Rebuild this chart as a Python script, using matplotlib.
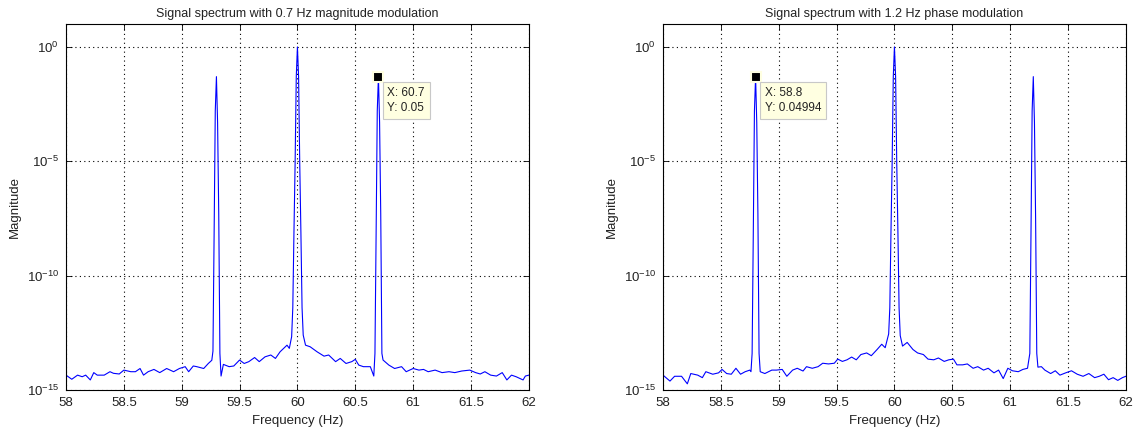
import matplotlib
matplotlib.use("Agg")
import matplotlib.pyplot as plt
import numpy as np

plt.rcParams['font.family'] = ['Liberation Sans', 'DejaVu Sans']
plt.rcParams['font.size'] = 9
plt.rcParams['axes.unicode_minus'] = False

# left plot : 0.7 Hz magnitude modulation (log10 of magnitude)
left_freq = [58.00, 58.05, 58.10, 58.14, 58.17, 58.21, 58.24, 58.27, 58.33, 58.38,
             58.41, 58.46, 58.50, 58.56, 58.60, 58.64, 58.67, 58.71, 58.76, 58.81,
             58.87, 58.93, 58.98, 59.03, 59.06, 59.10, 59.13, 59.19, 59.23, 59.26,
             59.27, 59.28, 59.29, 59.30, 59.31, 59.32, 59.33, 59.34, 59.36, 59.41,
             59.45, 59.50, 59.54, 59.58, 59.63, 59.67, 59.72, 59.77, 59.81, 59.85,
             59.91, 59.93, 59.95, 59.96, 59.97, 59.98, 59.99, 60.00, 60.01, 60.02,
             60.03, 60.04, 60.05, 60.07, 60.11, 60.17, 60.23, 60.27, 60.33, 60.37,
             60.42, 60.47, 60.50, 60.53, 60.57, 60.63, 60.66, 60.67, 60.68, 60.69,
             60.70, 60.71, 60.72, 60.73, 60.74, 60.79, 60.84, 60.90, 60.94, 61.00,
             61.05, 61.09, 61.13, 61.19, 61.25, 61.31, 61.36, 61.42, 61.49, 61.54,
             61.58, 61.62, 61.67, 61.72, 61.77, 61.81, 61.85, 61.89, 61.95, 61.97,
             62.00]
left_logmag = [-14.35, -14.53, -14.35, -14.42, -14.35, -14.56, -14.24, -14.35, -14.35, -14.20,
               -14.27, -14.30, -14.13, -14.20, -14.20, -14.06, -14.35, -14.20, -14.10, -14.24,
               -14.06, -14.20, -14.06, -13.98, -14.20, -13.95, -13.98, -14.06, -13.84, -13.70,
               -13.30, -8.20, -2.80, -1.30, -3.30, -7.30, -13.40, -14.39, -13.88, -13.98,
               -13.95, -13.69, -13.84, -13.76, -13.58, -13.76, -13.55, -13.47, -13.62, -13.33,
               -13.04, -13.18, -12.67, -11.40, -8.10, -5.10, -1.30, 0.00, -1.30, -5.10,
               -8.10, -11.40, -12.60, -13.04, -13.11, -13.33, -13.52, -13.47, -13.76, -13.62,
               -13.84, -13.76, -13.66, -13.91, -13.98, -13.98, -14.39, -13.40, -8.20, -2.80,
               -1.301, -3.30, -7.30, -13.40, -13.69, -13.91, -14.06, -13.98, -14.20, -14.06,
               -14.13, -14.10, -14.20, -14.13, -14.24, -14.20, -14.24, -14.17, -14.13, -14.24,
               -14.30, -14.20, -14.35, -14.39, -14.24, -14.56, -14.35, -14.42, -14.56, -14.39,
               -14.35]

# right plot : 1.2 Hz phase modulation
right_freq = [58.00, 58.06, 58.10, 58.16, 58.21, 58.24, 58.30, 58.34, 58.37, 58.43,
              58.48, 58.51, 58.55, 58.59, 58.63, 58.67, 58.71, 58.75, 58.76, 58.77,
              58.78, 58.79, 58.80, 58.81, 58.82, 58.83, 58.84, 58.88, 58.94, 58.98,
              59.03, 59.07, 59.12, 59.16, 59.21, 59.24, 59.29, 59.34, 59.38, 59.43,
              59.48, 59.51, 59.55, 59.59, 59.63, 59.67, 59.71, 59.76, 59.80, 59.85,
              59.89, 59.92, 59.95, 59.96, 59.97, 59.98, 59.99, 60.00, 60.01, 60.02,
              60.03, 60.04, 60.05, 60.07, 60.11, 60.16, 60.20, 60.25, 60.29, 60.34,
              60.38, 60.43, 60.47, 60.51, 60.54, 60.59, 60.63, 60.68, 60.72, 60.77,
              60.81, 60.86, 60.90, 60.94, 60.98, 61.02, 61.07, 61.11, 61.15, 61.17,
              61.18, 61.19, 61.20, 61.21, 61.22, 61.23, 61.24, 61.27, 61.30, 61.35,
              61.39, 61.43, 61.48, 61.53, 61.58, 61.63, 61.68, 61.73, 61.77, 61.81,
              61.85, 61.89, 61.93, 61.97, 62.00]
right_logmag = [-14.35, -14.61, -14.40, -14.40, -14.73, -14.28, -14.35, -14.46, -14.20, -14.31,
                -14.25, -14.10, -14.28, -14.31, -14.05, -14.31, -14.20, -14.13, -14.20, -13.40,
                -8.20, -2.80, -1.3016, -3.30, -7.30, -13.40, -14.20, -14.28, -14.13, -14.13,
                -14.10, -14.40, -14.13, -14.05, -14.17, -13.98, -14.05, -13.98, -13.83, -13.86,
                -13.83, -13.65, -13.75, -13.68, -13.56, -13.68, -13.45, -13.38, -13.50, -13.23,
                -13.00, -13.15, -12.55, -11.40, -8.10, -5.10, -1.30, 0.00, -1.30, -5.10,
                -8.10, -11.40, -12.62, -13.08, -12.92, -13.23, -13.38, -13.45, -13.65, -13.68,
                -13.60, -13.75, -13.68, -13.65, -13.90, -13.90, -13.86, -14.05, -13.98, -14.13,
                -14.05, -14.25, -14.13, -14.50, -14.05, -14.16, -14.20, -14.10, -14.05, -13.40,
                -8.20, -2.80, -1.30, -3.30, -7.50, -13.40, -14.00, -13.98, -14.13, -14.28,
                -14.16, -14.35, -14.25, -14.16, -14.31, -14.40, -14.28, -14.46, -14.40, -14.31,
                -14.55, -14.46, -14.58, -14.46, -14.40]

titles = ["Signal spectrum with 0.7 Hz magnitude modulation",
          "Signal spectrum with 1.2 Hz phase modulation"]
tips = [(60.7, 0.05, "X: 60.7\nY: 0.05"), (58.8, 0.04994, "X: 58.8\nY: 0.04994")]
xticks = [58, 58.5, 59, 59.5, 60, 60.5, 61, 61.5, 62]
xticklabels = ["58", "58.5", "59", "59.5", "60", "60.5", "61", "61.5", "62"]

fig = plt.figure(figsize=(11.4, 4.36), dpi=100)
ax1 = fig.add_axes([0.0579, 0.1055, 0.406, 0.8394])
ax2 = fig.add_axes([0.5816, 0.1055, 0.406, 0.8394])

data = [(left_freq, left_logmag), (right_freq, right_logmag)]
for ax, (f, lm), title, tip in zip([ax1, ax2], data, titles, tips):
    ax.semilogy(f, 10.0 ** np.array(lm), color='b', lw=0.8)
    ax.set_xlim(58, 62)
    ax.set_ylim(1e-15, 1e1)
    ax.set_yticks([1e-15, 1e-10, 1e-5, 1e0])
    ax.yaxis.set_minor_locator(matplotlib.ticker.NullLocator())
    ax.set_xticks(xticks)
    ax.set_xticklabels(xticklabels)
    ax.tick_params(direction='in', top=True, right=True, length=4, width=0.6, pad=5,
                   labelsize=9.5, labelcolor='#222222')
    ax.grid(True, color='black', linestyle=(0, (1, 3)), linewidth=0.8)
    for s in ax.spines.values():
        s.set_linewidth(0.8)
    ax.set_title(title, fontsize=9, pad=5, color='#222222')
    ax.set_xlabel("Frequency (Hz)", labelpad=4, fontsize=9.5, color='#222222')
    ax.set_ylabel("Magnitude", labelpad=4, fontsize=9.5, color='#222222')

    # data tip
    tx, ty, txt = tip
    ax.plot([tx], [ty], marker='s', ms=7, mfc='black', mec='#ffffe1', mew=1.5)
    ax.annotate(txt, xy=(tx, ty), xytext=(9, -10), textcoords='offset pixels',
                ha='left', va='top', fontsize=8.5, linespacing=1.35, color='#222222',
                bbox=dict(boxstyle='square,pad=0.4', fc='#ffffe1', ec='#c8c8c8', lw=0.8))

fig.savefig("out.png", dpi=100)
